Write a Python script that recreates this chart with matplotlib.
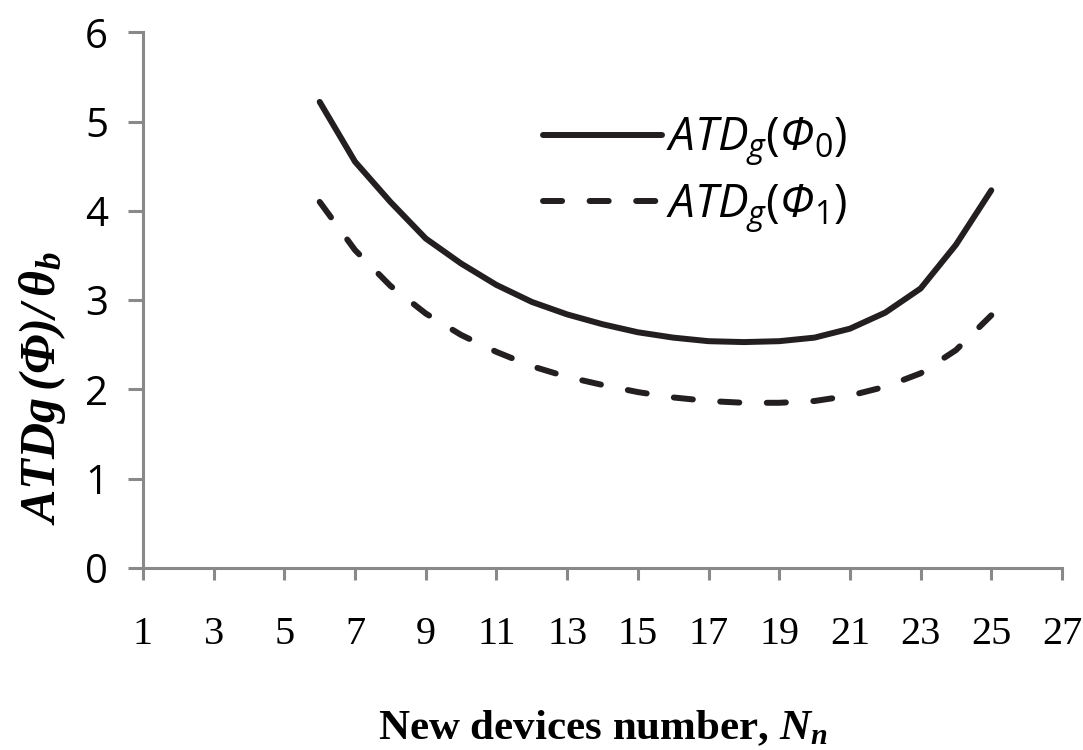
import matplotlib as mpl
mpl.use('Agg')
from matplotlib import pyplot as plt

plt.rcParams['mathtext.fontset'] = 'custom'
plt.rcParams['mathtext.it'] = 'Open Sans:italic'
plt.rcParams['mathtext.sf'] = 'Open Sans:italic'
plt.rcParams['mathtext.rm'] = 'Open Sans'
plt.rcParams['mathtext.bf'] = 'Liberation Serif:bold:italic'

# data
Nn = [6, 7, 8, 9, 10, 11, 12, 13, 14, 15, 16, 17, 18, 19, 20, 21, 22, 23, 24, 25]
ATD0 = [5.22, 4.55, 4.10, 3.69, 3.41, 3.17, 2.98, 2.84, 2.73, 2.64, 2.58, 2.54, 2.53,
        2.54, 2.58, 2.68, 2.86, 3.13, 3.62, 4.23]
ATD1 = [4.10, 3.56, 3.16, 2.85, 2.61, 2.42, 2.26, 2.14, 2.05, 1.97, 1.91, 1.87, 1.85,
        1.85, 1.87, 1.93, 2.03, 2.18, 2.44, 2.83]
xticks = list(range(1, 28, 2))
yticks = [0, 1, 2, 3, 4, 5, 6]

col = '#231f20'
axcol = '#898989'

fig = plt.figure(figsize=(10.83, 7.5), dpi=100)
ax = fig.add_axes([0.132, 0.2427, 0.8486, 0.7143])

ax.plot(Nn, ATD0, '-', color=col, linewidth=4.3, solid_capstyle='round',
        label=r'$ATD_g(\mathsf{Φ}_0)$')
ax.plot(Nn, ATD1, color=col, linewidth=4.3, dashes=(3.2, 4.6),
        dash_capstyle='round', label=r'$ATD_g(\mathsf{Φ}_1)$')

ax.set_xlim(1, 27)
ax.set_ylim(0, 6)
ax.set_xticks(xticks)
ax.set_yticks(yticks)

for s in ['top', 'right']:
    ax.spines[s].set_visible(False)
for s in ['left', 'bottom']:
    ax.spines[s].set_color(axcol)
    ax.spines[s].set_linewidth(2.2)

ax.tick_params(axis='x', direction='out', length=8.5, width=2.2, color=axcol,
               pad=26, labelsize=29)
ax.tick_params(axis='y', direction='out', length=11, width=2.2, color=axcol,
               pad=14, labelsize=29)
for lab in ax.get_xticklabels():
    lab.set_fontfamily('Liberation Serif')
for lab in ax.get_yticklabels():
    lab.set_fontfamily('Open Sans')

ax.set_ylabel(r'$\mathbf{ATDg\,(Φ)/\,θ_b}$', fontsize=36)
ax.yaxis.set_label_coords(-0.082, 0.335)
ax.set_xlabel(r'New devices number, $\mathbf{N_n}$', fontsize=31,
              fontfamily='Liberation Serif', fontweight='bold', labelpad=40)

ax.legend(loc='upper left', bbox_to_anchor=(0.39, 0.922), frameon=False,
          fontsize=33, handlelength=2.6, handletextpad=0.1, labelspacing=0.3)

plt.savefig('out.png', dpi=100)
plt.close()
